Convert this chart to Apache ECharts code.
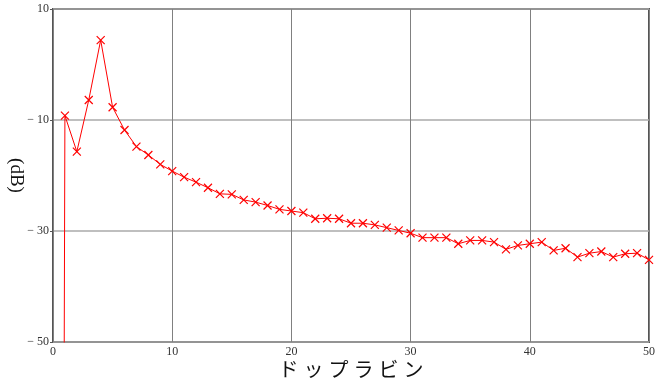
<!DOCTYPE html>
<html>
<head>
<meta charset="utf-8">
<script src="https://cdn.jsdelivr.net/npm/echarts@6/dist/echarts.min.js"></script>
<style>html,body{margin:0;padding:0;background:#fff;}#c{width:657px;height:385px;}</style>
</head>
<body>
<div id="c"></div>
<script>
var bins = [1,2,3,4,5,6,7,8,9,10,11,12,13,14,15,16,17,18,19,20,21,22,23,24,25,26,27,28,29,30,31,32,33,34,35,36,37,38,39,40,41,42,43,44,45,46,47,48,49,50];
var dB = [-9.2,-15.7,-6.4,4.4,-7.7,-11.8,-14.8,-16.3,-18.0,-19.2,-20.3,-21.2,-22.2,-23.3,-23.4,-24.4,-24.8,-25.4,-26.1,-26.4,-26.7,-27.8,-27.7,-27.8,-28.6,-28.6,-28.9,-29.4,-29.9,-30.4,-31.2,-31.2,-31.2,-32.3,-31.7,-31.7,-32.0,-33.3,-32.6,-32.3,-32.0,-33.5,-33.1,-34.7,-34.0,-33.7,-34.7,-34.1,-34.0,-35.2];
var floorPoint = [0.9, -80];
var xTicks = [0,10,20,30,40,50];
var yTicks = [10,-10,-30,-50];

var data = [{value: floorPoint, symbol: 'none'}];
for (var i = 0; i < bins.length; i++) data.push([bins[i], dB[i]]);

var chart = echarts.init(document.getElementById('c'));
chart.setOption({
  animation: false,
  backgroundColor: '#fff',
  grid: {left: 53, right: 8, top: 9, bottom: 43, containLabel: false, outerBoundsMode: 'none',
    show: true, borderColor: '#555', borderWidth: 2, backgroundColor: 'transparent'},
  xAxis: {
    type: 'value', min: xTicks[0], max: xTicks[xTicks.length-1], interval: 10,
    name: 'ド\u2005ッ\u2005プ\u2005ラ\u2005ビ\u2005ン', nameLocation: 'middle', nameGap: 17, nameMoveOverlap: false,
    nameTextStyle: {fontFamily: 'Noto Sans CJK JP', fontWeight: 'normal', fontSize: 20, color: '#111'},
    axisLine: {show: false}, axisTick: {show: false},
    axisLabel: {fontFamily: 'Liberation Serif', fontSize: 12, color: '#333', margin: 4},
    splitLine: {show: true, lineStyle: {color: '#808080', width: 1}}
  },
  yAxis: {
    type: 'value', min: -50, max: 10, interval: 20,
    name: '(dB)', nameLocation: 'middle', nameGap: 28, nameRotate: -90, nameMoveOverlap: false,
    nameTextStyle: {fontFamily: 'Liberation Serif', fontSize: 19, color: '#111'},
    axisLine: {show: false},
    axisTick: {show: true, length: 3, lineStyle: {color: '#555'}},
    axisLabel: {fontFamily: 'Liberation Serif', fontSize: 12, color: '#333', margin: 4,
      formatter: function(v){ return v < 0 ? '\u2212 ' + Math.abs(v) : String(v); }},
    splitLine: {show: true, lineStyle: {color: '#aaaaaa', width: 1.5}}
  },
  series: [{
    type: 'line', data: data, clip: true,
    symbol: 'path://M0,0L10,10M10,0L0,10', symbolSize: 8,
    lineStyle: {color: '#ff0000', width: 1},
    itemStyle: {color: '#ff0000', borderColor: '#ff0000', borderWidth: 1.2}
  }]
});
</script>
</body>
</html>
